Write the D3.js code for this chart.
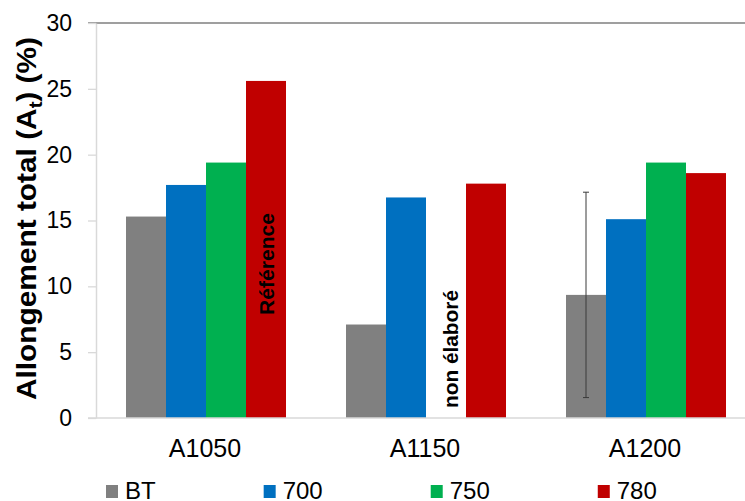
<!DOCTYPE html>
<html>
<head>
<meta charset="utf-8">
<script src="https://cdn.jsdelivr.net/npm/d3@7"></script>
<style>
  html, body { margin: 0; padding: 0; background: #fff; }
  svg { display: block; font-family: Arial, "Liberation Sans", sans-serif; }
</style>
</head>
<body>
<svg id="chart" width="745" height="501"></svg>
<script>
// ---- data ----
const categories = ["A1050", "A1150", "A1200"];
const seriesNames = ["BT", "700", "750", "780"];
const valuesBT  = [15.3, 7.1, 9.35];
const values700 = [17.7, 16.75, 15.1];
const values750 = [19.4, null, 19.4];
const values780 = [25.6, 17.8, 18.6];
const errorBT   = [null, null, 7.8];
const yTicks = [0, 5, 10, 15, 20, 25, 30];
const seriesColors = ["#808080", "#0070C0", "#00B050", "#C00000"];
const yTitle = ["Allongement total (A", "t", ") (%)"];
const noteReference = "Référence";
const noteNotDone = "non élaboré";

(function () {
// table built from the arrays
const seriesValues = [valuesBT, values700, values750, values780];
const barData = [];
categories.forEach((c, ci) => {
  seriesNames.forEach((s, si) => {
    const v = seriesValues[si][ci];
    if (v !== null) barData.push({ cat: c, series: s, value: v, color: seriesColors[si] });
  });
});

// ---- layout ----
const svg = d3.select("#chart");
const mLeft = 96, mRight = 756, mTop = 23, mBottom = 418;

const y = d3.scaleLinear().domain([0, 30]).range([mBottom, mTop]);
const x0 = d3.scaleBand().domain(categories).range([mLeft, mRight]).padding(0);
const x1 = d3.scaleBand().domain(seriesNames).range([30, 190]).padding(0);

// top border
svg.append("line")
  .attr("x1", mLeft - 8).attr("x2", mRight)
  .attr("y1", y(30)).attr("y2", y(30))
  .attr("stroke", "#7f7f7f").attr("stroke-width", 1.3);

// bars
svg.append("g").selectAll("rect").data(barData).join("rect")
  .attr("x", d => x0(d.cat) + x1(d.series))
  .attr("y", d => y(d.value))
  .attr("width", x1.bandwidth())
  .attr("height", d => y(0) - y(d.value))
  .attr("fill", d => d.color);

// error bars on BT
const errData = categories.map((c, i) => ({ cat: c, v: valuesBT[i], e: errorBT[i] })).filter(d => d.e !== null);
const eg = svg.append("g").attr("stroke", "#3a3a3a").attr("stroke-width", 1);
errData.forEach(d => {
  const cx = x0(d.cat) + x1("BT") + x1.bandwidth() / 2;
  eg.append("line").attr("x1", cx).attr("x2", cx).attr("y1", y(d.v + d.e)).attr("y2", y(d.v - d.e));
  [d.v + d.e, d.v - d.e].forEach(val => {
    eg.append("line").attr("x1", cx - 3).attr("x2", cx + 3).attr("y1", y(val)).attr("y2", y(val));
  });
});

// y axis
const yAxis = d3.axisLeft(y).tickValues(yTicks).tickSize(8).tickSizeOuter(0).tickPadding(16);
const yg = svg.append("g").attr("transform", `translate(${mLeft},0)`).call(yAxis);
yg.select(".domain").attr("stroke", "#d9d9d9").attr("stroke-width", 1.5);
yg.selectAll(".tick line").attr("stroke", "#d9d9d9").attr("stroke-width", 1.3);
yg.selectAll(".tick text").attr("font-size", 23).attr("fill", "#000")
  .attr("font-family", "Arial, 'Liberation Sans', sans-serif");

// x axis line + labels
svg.append("line")
  .attr("x1", mLeft - 8).attr("x2", mRight)
  .attr("y1", y(0)).attr("y2", y(0))
  .attr("stroke", "#d9d9d9").attr("stroke-width", 1.5);

svg.append("g").selectAll("text").data(categories).join("text")
  .attr("x", d => x0(d) + x0.bandwidth() / 2 - 1)
  .attr("y", 457)
  .attr("text-anchor", "middle")
  .attr("font-size", 25)
  .text(d => d);

// y title
const yt = svg.append("text")
  .attr("transform", "translate(35.5,218.5) rotate(-90)")
  .attr("text-anchor", "middle")
  .attr("font-weight", "bold")
  .attr("font-size", 28)
  .attr("textLength", 363).attr("lengthAdjust", "spacingAndGlyphs");
yt.append("tspan").text(yTitle[0]);
yt.append("tspan").attr("font-size", 19).attr("dy", 6).text(yTitle[1]);
yt.append("tspan").attr("dy", -6).text(yTitle[2]);

// in-bar notes
const refX = x0("A1050") + x1("780") + x1.bandwidth() / 2 + 8;
svg.append("text")
  .attr("transform", `translate(${refX},264) rotate(-90)`)
  .attr("text-anchor", "middle")
  .attr("font-weight", "bold").attr("font-size", 21)
  .attr("textLength", 102).attr("lengthAdjust", "spacingAndGlyphs")
  .text(noteReference);
const ndX = x0("A1150") + x1("750") + x1.bandwidth() / 2 + 12;
svg.append("text")
  .attr("transform", `translate(${ndX},349) rotate(-90)`)
  .attr("text-anchor", "middle")
  .attr("font-weight", "bold").attr("font-size", 21)
  .attr("textLength", 118).attr("lengthAdjust", "spacingAndGlyphs")
  .text(noteNotDone);

// legend (entries laid out one after the other)
const lg = svg.append("g");
let cursor = 106;
seriesNames.forEach((s, i) => {
  lg.append("rect").attr("x", cursor).attr("y", 485).attr("width", 12).attr("height", 13).attr("fill", seriesColors[i]);
  const t = lg.append("text").attr("x", cursor + 19).attr("y", 498.5)
    .attr("font-size", 24)
    .text(s);
  cursor = cursor + 19 + t.node().getComputedTextLength() + 108;
});
})();
</script>
</body>
</html>
